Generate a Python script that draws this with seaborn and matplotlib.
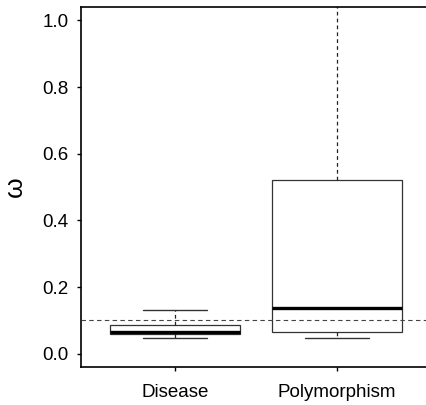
import numpy as np
import pandas as pd
import matplotlib
matplotlib.use("Agg")
import matplotlib.pyplot as plt
import seaborn as sns

categories = ["Disease", "Polymorphism"]
disease_values = [0.046, 0.058, 0.066, 0.087, 0.132]
polymorphism_values = [0.046, 0.064, 0.138, 0.52, 1.2]
y_ticks = [0.0, 0.2, 0.4, 0.6, 0.8, 1.0]
reference_line = 0.1

sns.set_style("ticks")
plt.rcParams["font.family"] = ["Liberation Sans", "DejaVu Sans"]
plt.rcParams["text.color"] = "black"
plt.rcParams["axes.labelcolor"] = "black"
plt.rcParams["xtick.color"] = "black"
plt.rcParams["ytick.color"] = "black"

df = pd.DataFrame({
    "group": [categories[0]] * len(disease_values) + [categories[1]] * len(polymorphism_values),
    "omega": disease_values + polymorphism_values,
})

fig = plt.figure(figsize=(4.26, 4.05), dpi=100)
ax = fig.add_axes([81 / 426, 38 / 405, 350 / 426, 360 / 405])

sns.boxplot(
    data=df, x="group", y="omega", order=categories, ax=ax,
    whis=np.inf, width=0.8, color="white", linecolor="#333333", linewidth=0.9,
    saturation=1,
    medianprops=dict(color="black", linewidth=2.4),
    whiskerprops=dict(color="#222222", linestyle=(0, (3, 2.5)), linewidth=0.9),
    capprops=dict(color="#333333", linewidth=1.0),
)

ax.axhline(reference_line, color="#444444", linestyle=(0, (4, 3)), linewidth=0.8, zorder=5)

ax.set_xlim(-0.58, 1.58)
ax.set_ylim(-0.04, 1.04)
ax.set_yticks(y_ticks)
ax.set_yticklabels([f"{v:.1f}" for v in y_ticks], fontsize=13.5)
ax.set_xticks([0, 1])
ax.set_xticklabels(categories, fontsize=13.5)
ax.set_xlabel("")
ax.set_ylabel("ω", fontsize=19, labelpad=11)
ax.tick_params(axis="both", direction="out", length=3, width=1, colors="black", pad=6)
ax.tick_params(axis="x", pad=9)
for side in ["left", "bottom", "top", "right"]:
    ax.spines[side].set_visible(True)
    ax.spines[side].set_linewidth(1.2)
    ax.spines[side].set_color("black")

fig.savefig("out.png", dpi=100)
